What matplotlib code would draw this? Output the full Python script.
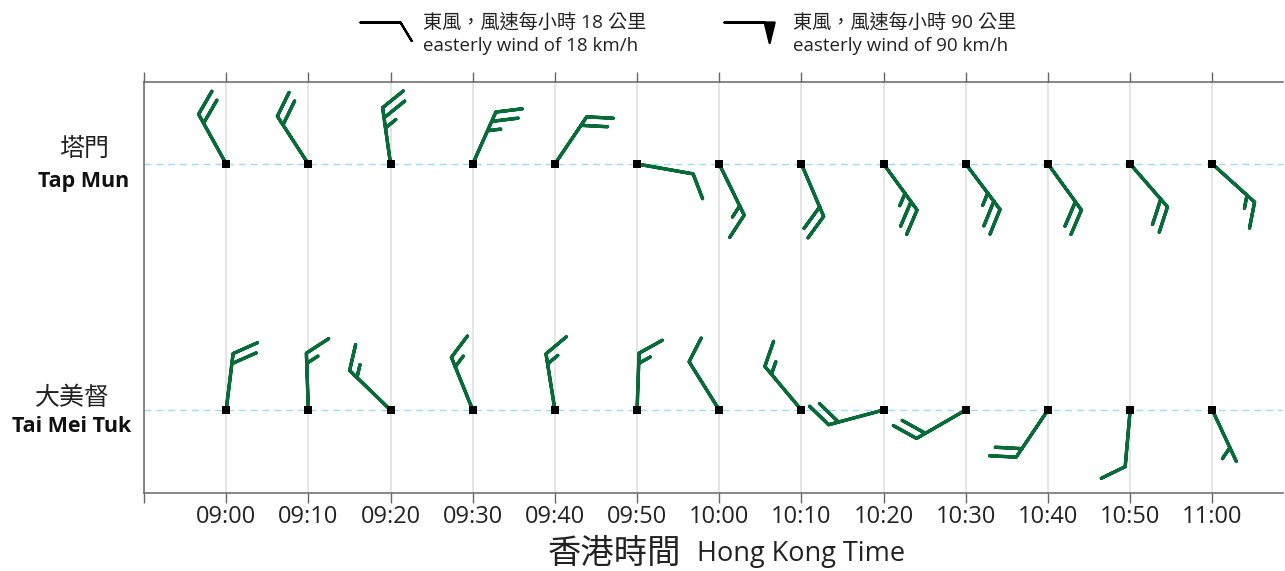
import numpy as np
import matplotlib
matplotlib.use("Agg")
import matplotlib.pyplot as plt

# Horas das observações
times = ["09:00", "09:10", "09:20", "09:30", "09:40", "09:50", "10:00",
         "10:10", "10:20", "10:30", "10:40", "10:50", "11:00"]

# Estações
stations_zh = ["塔門", "大美督"]
stations_en = ["Tap Mun", "Tai Mei Tuk"]

# Direção de onde vem o vento (graus) e velocidade (km/h)
tap_mun_dir = [331, 327, 352, 24, 34, 100, 154, 157, 144, 143, 144, 139, 132]
tap_mun_speed = [36, 36, 45, 45, 36, 18, 27, 36, 45, 45, 36, 36, 27]
tai_mei_tuk_dir = [7, 358, 314, 338, 351, 2, 328, 320, 255, 240, 214, 185, 155]
tai_mei_tuk_speed = [36, 27, 27, 27, 27, 27, 18, 27, 36, 36, 36, 18, 9]

# Legenda
legend_speeds = [18, 90]
legend_zh = ["東風，風速每小時 18 公里", "東風，風速每小時 90 公里"]
legend_en = ["easterly wind of 18 km/h", "easterly wind of 90 km/h"]

GREEN = "#0a6b3a"
W, H = 1285, 571
latin = "Open Sans"
cjk = "Noto Sans CJK TC"


def uv(direction, speed):
    d = np.radians(np.array(direction, dtype=float))
    s = np.array(speed, dtype=float)
    return -s * np.sin(d), -s * np.cos(d)


minutes = np.array([int(t[:2]) * 60 + int(t[3:]) for t in times])

fig = plt.figure(figsize=(W / 100, H / 100), dpi=100)
ax = fig.add_axes([144 / W, 78 / H, 1139 / W, 411 / H])

ax.set_xlim(530, 668.6)
ax.set_ylim(-0.3374, 1.3333)

# linhas de referência das estações
for yy in (0, 1):
    ax.axhline(yy, color="#9fdcf3", lw=1.0, ls=(0, (5, 3.5)), zorder=1)

incr = dict(half=9, full=18, flag=90)
sizes = dict(spacing=0.18, height=0.4, width=0.48)
for yy, d, s in [(1, tap_mun_dir, tap_mun_speed), (0, tai_mei_tuk_dir, tai_mei_tuk_speed)]:
    u, v = uv(d, s)
    ax.barbs(minutes, np.full(len(minutes), yy), u, v, length=9.05,
             barbcolor=GREEN, flagcolor=GREEN, linewidth=2.4,
             barb_increments=incr, sizes=sizes, zorder=3)
    ax.scatter(minutes, np.full(len(minutes), yy), marker="s", s=28,
               color="black", zorder=4, linewidths=0)

# eixos
ticks = np.arange(530, 661, 10)
ax.set_xticks(ticks)
ax.set_xticklabels([""] + times, fontsize=17, fontfamily=latin, color="#222222")
ax.set_yticks([])
ax.tick_params(axis="x", which="both", top=True, bottom=True, direction="out",
               length=7.5, width=1.0, color="#666666", pad=1.0)
ax.grid(axis="x", color="#dedede", lw=1.1, zorder=0)
for side in ("left", "top", "bottom"):
    ax.spines[side].set_color("#666666")
    ax.spines[side].set_linewidth(1.1)
ax.spines["right"].set_visible(False)


def px(x, y):
    return x / W, 1 - y / H


# rótulos das estações
fig.text(*px(84, 149), stations_zh[0], fontsize=18, fontfamily=cjk,
         color="#222222", ha="center", va="center")
fig.text(*px(84, 182), stations_en[0], fontsize=15.5, fontfamily=latin,
         fontweight="bold", color="#111111", ha="center", va="center")
fig.text(*px(72, 398), stations_zh[1], fontsize=18, fontfamily=cjk,
         color="#222222", ha="center", va="center")
fig.text(*px(72, 426), stations_en[1], fontsize=15.5, fontfamily=latin,
         fontweight="bold", color="#111111", ha="center", va="center")

# título do eixo x
fig.text(*px(681, 553), "香港時間", fontsize=24, fontfamily=cjk,
         color="#222222", ha="right", va="center")
fig.text(*px(697, 554), "Hong Kong Time", fontsize=19.5, fontfamily=latin,
         color="#222222", ha="left", va="center")

# legenda com as barbelas de exemplo
lax = fig.add_axes([0, 0, 1, 1])
lax.set_xlim(0, W)
lax.set_ylim(H, 0)
lax.axis("off")
u, v = uv([90], [legend_speeds[0]])
lax.barbs([360], [22], u, v, length=7.6, barbcolor="black", flagcolor="black",
          linewidth=1.6, barb_increments=incr, sizes=dict(height=0.46, width=0.55))
u, v = uv([90], [legend_speeds[1]])
lax.barbs([724], [22], u, v, length=8.5, barbcolor="black", flagcolor="black",
          linewidth=1.6, barb_increments=incr, sizes=dict(height=0.41, width=0.2))

for x0, zh, en in zip([423, 793], legend_zh, legend_en):
    fig.text(*px(x0, 22), zh, fontsize=13.8, fontfamily=[latin, cjk],
             color="#222222", ha="left", va="center")
    fig.text(*px(x0, 46), en, fontsize=13.5, fontfamily=latin,
             color="#222222", ha="left", va="center")

fig.savefig("out.png", dpi=100)
